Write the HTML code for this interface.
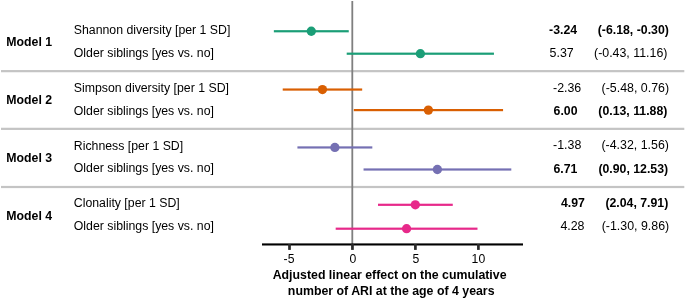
<!DOCTYPE html><html><head><meta charset="utf-8"><style>html,body{margin:0;padding:0;background:#fff;width:685px;height:298px;overflow:hidden}svg{display:block;will-change:transform}text{font-family:"Liberation Sans",sans-serif;fill:#000}</style></head><body>
<svg width="685" height="298" viewBox="0 0 685 298">
<rect x="1" y="70.05" width="683.3" height="2.2" fill="#c4c4c4"/>
<rect x="1" y="127.75" width="683.3" height="2.2" fill="#c4c4c4"/>
<rect x="1" y="185.90" width="683.3" height="2.2" fill="#c4c4c4"/>
<rect x="351.40" y="1" width="1.8" height="243" fill="#7f7f7f"/>
<rect x="273.85" y="30.15" width="74.90" height="2.2" fill="#1b9e77"/>
<circle cx="311.30" cy="31.25" r="4.65" fill="#1b9e77"/>
<rect x="346.70" y="52.60" width="147.25" height="2.2" fill="#1b9e77"/>
<circle cx="420.39" cy="53.70" r="4.65" fill="#1b9e77"/>
<rect x="282.72" y="88.45" width="79.46" height="2.2" fill="#d95f02"/>
<circle cx="322.45" cy="89.55" r="4.65" fill="#d95f02"/>
<rect x="353.80" y="109.00" width="149.27" height="2.2" fill="#d95f02"/>
<circle cx="428.37" cy="110.10" r="4.65" fill="#d95f02"/>
<rect x="297.42" y="146.35" width="74.90" height="2.2" fill="#7570b3"/>
<circle cx="334.87" cy="147.45" r="4.65" fill="#7570b3"/>
<rect x="363.55" y="168.40" width="147.75" height="2.2" fill="#7570b3"/>
<circle cx="437.37" cy="169.50" r="4.65" fill="#7570b3"/>
<rect x="378.00" y="203.70" width="74.77" height="2.2" fill="#e7298a"/>
<circle cx="415.32" cy="204.80" r="4.65" fill="#e7298a"/>
<rect x="335.68" y="227.60" width="141.80" height="2.2" fill="#e7298a"/>
<circle cx="406.58" cy="228.70" r="4.65" fill="#e7298a"/>
<text x="73.8" y="33.80" font-size="12.3">Shannon diversity [per 1 SD]</text>
<text x="549.1" y="33.60" font-weight="bold" font-size="12.3">-3.24</text>
<text x="597.75" y="33.60" font-weight="bold" font-size="12.3">(-6.18, -0.30)</text>
<text x="73.8" y="56.50" font-size="12.3">Older siblings [yes vs. no]</text>
<text x="549.6" y="56.50" font-size="12.4">5.37</text>
<text x="594.0" y="56.50" font-size="12.4">(-0.43, 11.16)</text>
<text x="73.8" y="92.00" font-size="12.3">Simpson diversity [per 1 SD]</text>
<text x="553.0" y="92.00" font-size="12.4">-2.36</text>
<text x="601.6" y="92.00" font-size="12.4">(-5.48, 0.76)</text>
<text x="73.8" y="114.90" font-size="12.3">Older siblings [yes vs. no]</text>
<text x="553.6" y="114.90" font-weight="bold" font-size="12.3">6.00</text>
<text x="598.3" y="114.90" font-weight="bold" font-size="12.3">(0.13, 11.88)</text>
<text x="73.8" y="150.10" font-size="12.3">Richness [per 1 SD]</text>
<text x="553.1" y="149.25" font-size="12.4">-1.38</text>
<text x="601.45" y="149.25" font-size="12.4">(-4.32, 1.56)</text>
<text x="73.8" y="172.35" font-size="12.3">Older siblings [yes vs. no]</text>
<text x="553.5" y="172.50" font-weight="bold" font-size="12.3">6.71</text>
<text x="598.4" y="172.50" font-weight="bold" font-size="12.3">(0.90, 12.53)</text>
<text x="73.8" y="207.00" font-size="12.3">Clonality [per 1 SD]</text>
<text x="561.0" y="207.00" font-weight="bold" font-size="12.3">4.97</text>
<text x="605.4" y="207.00" font-weight="bold" font-size="12.3">(2.04, 7.91)</text>
<text x="73.8" y="229.50" font-size="12.3">Older siblings [yes vs. no]</text>
<text x="560.4" y="229.50" font-size="12.4">4.28</text>
<text x="601.7" y="229.50" font-size="12.4">(-1.30, 9.86)</text>
<text x="6.3" y="46.10" font-size="12.3" font-weight="bold">Model 1</text>
<text x="6.3" y="104.10" font-size="12.3" font-weight="bold">Model 2</text>
<text x="6.3" y="161.80" font-size="12.3" font-weight="bold">Model 3</text>
<text x="6.3" y="220.40" font-size="12.3" font-weight="bold">Model 4</text>
<rect x="262" y="243.4" width="261" height="2.1" fill="#000"/>
<rect x="288.15" y="244" width="2.7" height="5.9" fill="#2a2a2a"/>
<text x="289.00" y="262.8" font-size="12.2" text-anchor="middle">-5</text>
<rect x="351.10" y="244" width="2.7" height="5.9" fill="#2a2a2a"/>
<text x="352.95" y="262.8" font-size="12.2" text-anchor="middle">0</text>
<rect x="414.05" y="244" width="2.7" height="5.9" fill="#2a2a2a"/>
<text x="415.90" y="262.8" font-size="12.2" text-anchor="middle">5</text>
<rect x="477.05" y="244" width="2.7" height="5.9" fill="#2a2a2a"/>
<text x="478.40" y="262.8" font-size="12.2" text-anchor="middle">10</text>
<text x="389.6" y="279.3" font-size="12.35" font-weight="bold" text-anchor="middle">Adjusted linear effect on the cumulative</text>
<text x="391.2" y="294.8" font-size="12.35" font-weight="bold" text-anchor="middle">number of ARI at the age of 4 years</text>
</svg></body></html>
